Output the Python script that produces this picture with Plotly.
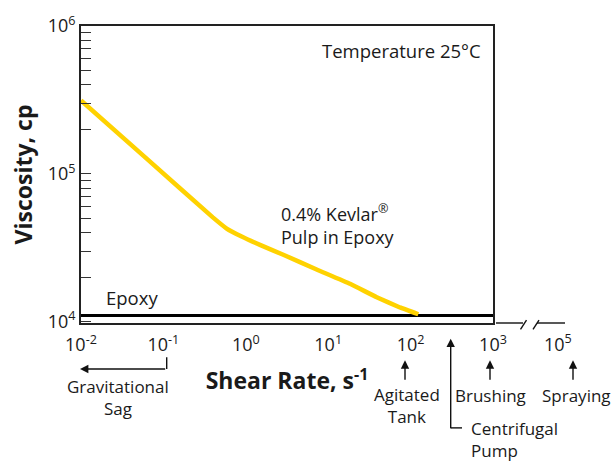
import plotly.graph_objects as go

# ---- data ----
kevlar_shear = [0.01, 0.0631, 0.398, 0.586, 0.891, 1.486, 2.85, 7.24, 18.4, 38.8, 74.3, 124]
kevlar_visc = [313000, 126000, 50700, 42600, 37600, 33000, 28300, 22500, 18000, 14600, 12450, 11200]
epoxy_shear = [0.01, 1000]
epoxy_visc = [11000, 11000]

x_tickvals = [0.01, 0.1, 1, 10, 100, 1000]
x_ticktext = ["10<sup>-2</sup>", "10<sup>-1</sup>", "10<sup>0</sup>", "10<sup>1</sup>", "10<sup>2</sup>", "10<sup>3</sup>"]
y_decades = [1e4, 1e5, 1e6]
y_decade_text = ["10<sup>4</sup>", "10<sup>5</sup>", "10<sup>6</sup>"]
y_minor_digits = [2, 3, 4, 5, 6, 7, 8, 9]

# ---- layout geometry (pixels) ----
W, H = 613, 462
L, R, T, B = 81, 493, 20, 323


def px(x):
    return (x - L) / (R - L)


def py(y):
    return (B - y) / (B - T)


FONT = "Open Sans"
TXT = "#1a1a1a"

y_minor_vals = [d * m for d in y_decades[:-1] for m in y_minor_digits]

fig = go.Figure()
fig.add_trace(go.Scatter(x=epoxy_shear, y=epoxy_visc, mode="lines",
                         line=dict(color="#000000", width=3), showlegend=False))
fig.add_trace(go.Scatter(x=kevlar_shear, y=kevlar_visc, mode="lines",
                         line=dict(color="#FFD200", width=4.5, shape="spline", smoothing=0.3),
                         showlegend=False))

annotations = []


def txt(text, x, y, xanchor="center", align="center", size=17):
    annotations.append(dict(text=text, x=px(x), y=py(y), xref="paper", yref="paper",
                            xanchor=xanchor, yanchor="middle", align=align, showarrow=False,
                            font=dict(family=FONT, size=size, color=TXT)))


def arrow(tx, ty, hx, hy):
    annotations.append(dict(text="", x=px(hx), y=py(hy), xref="paper", yref="paper",
                            ax=tx - hx, ay=ty - hy, showarrow=True, arrowhead=2,
                            arrowsize=1.2, arrowwidth=1.4, arrowcolor="#111111", standoff=0))


txt("Temperature 25°C", 483, 45, xanchor="right", size=18.5)
txt("0.4% Kevlar<sup>®</sup><br>Pulp in Epoxy", 279, 222, xanchor="left", align="left", size=18)
txt("Epoxy", 104, 297, xanchor="left", size=18.5)
txt("10<sup>5</sup>", 558, 343, size=18)
txt("Gravitational<br>Sag", 118, 399.5, size=17)
txt("Agitated<br>Tank", 407, 407, size=17)
txt("Brushing", 490, 397, size=17)
txt("Spraying", 576, 397, size=17)
txt("Centrifugal<br>Pump", 469, 442, xanchor="left", align="left", size=17)

arrow(166.7, 370, 80, 370)
arrow(405, 382, 405, 361)
arrow(490, 382, 490, 361)
arrow(573, 382, 573, 361)
arrow(450.7, 430, 450.7, 339)

shapes = []


def seg(x0, y0, x1, y1, w=1.4):
    shapes.append(dict(type="line", xref="paper", yref="paper",
                       x0=px(x0), y0=py(y0), x1=px(x1), y1=py(y1),
                       line=dict(color="#111111", width=w)))


seg(166.7, 358, 166.7, 370)
seg(450.7, 430, 462, 430)
# broken axis continuation
seg(496, 323, 523, 323)
seg(520.5, 329.5, 526.5, 320)
seg(533, 329.5, 539, 320)
seg(537, 323, 565, 323)

fig.update_layout(
    width=W, height=H,
    margin=dict(l=L, r=W - R, t=T, b=H - B, pad=0),
    paper_bgcolor="white", plot_bgcolor="white",
    font=dict(family=FONT, size=17, color=TXT),
    annotations=annotations, shapes=shapes,
    xaxis=dict(type="log", range=[-2, 3], tickvals=x_tickvals, ticktext=x_ticktext,
               showgrid=False, zeroline=False, showline=True, mirror=True,
               linecolor="#222222", linewidth=1.5,
               ticks="outside", ticklen=5, tickcolor="rgba(0,0,0,0)",
               tickfont=dict(family=FONT, size=18, color=TXT),
               title=dict(text="<b>Shear Rate, s<sup>-1</sup></b>", standoff=18,
                          font=dict(family=FONT, size=23, color=TXT))),
    yaxis=dict(type="log", range=[3.99, 6.0], tickvals=y_decades, ticktext=y_decade_text,
               showgrid=False, zeroline=False, showline=True, mirror=True,
               linecolor="#222222", linewidth=1.8,
               ticks="inside", ticklen=10, tickwidth=1.3, tickcolor="#333333",
               minor=dict(tickvals=y_minor_vals, ticks="inside", ticklen=10,
                          tickwidth=1.3, tickcolor="#333333", showgrid=False),
               tickfont=dict(family=FONT, size=18, color=TXT),
               title=dict(text="<b>Viscosity, cp</b>", standoff=9,
                          font=dict(family=FONT, size=23, color=TXT))),
)

fig.write_html("out.html", config={"displayModeBar": False},
               post_script="document.body.style.margin='0';")
